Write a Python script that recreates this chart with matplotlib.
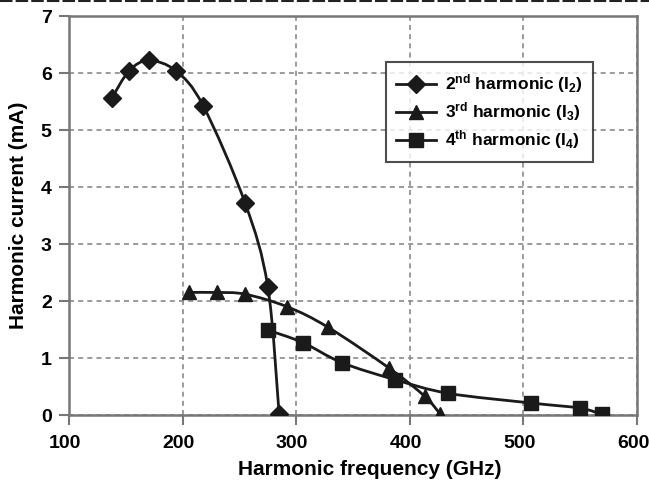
import numpy as np
import matplotlib
matplotlib.use("Agg")
import matplotlib.pyplot as plt
from matplotlib.path import Path
from matplotlib.patches import PathPatch
from matplotlib.lines import Line2D
import matplotlib.transforms as mtransforms

plt.rcParams['font.family'] = ['Liberation Sans', 'DejaVu Sans']
plt.rcParams['font.weight'] = 'bold'
plt.rcParams['mathtext.fontset'] = 'custom'
plt.rcParams['mathtext.rm'] = 'Liberation Sans:bold'
plt.rcParams['mathtext.it'] = 'Liberation Sans:bold'
plt.rcParams['mathtext.bf'] = 'Liberation Sans:bold'

# Data
f2 = [138, 153, 170, 194, 218, 255, 275, 285]
i2 = [5.57, 6.04, 6.22, 6.04, 5.43, 3.72, 2.25, 0.01]
f3 = [206, 230, 255, 292, 328, 382, 413, 427]
i3 = [2.15, 2.15, 2.12, 1.90, 1.54, 0.82, 0.33, 0.01]
f4 = [275, 306, 340, 387, 434, 507, 550, 569]
i4 = [1.49, 1.27, 0.92, 0.62, 0.38, 0.21, 0.12, 0.01]

labels = [r"2$^{\mathrm{nd}}$ harmonic (I$_{\mathrm{2}}$)",
          r"3$^{\mathrm{rd}}$ harmonic (I$_{\mathrm{3}}$)",
          r"4$^{\mathrm{th}}$ harmonic (I$_{\mathrm{4}}$)"]
x_ticks = [100, 200, 300, 400, 500, 600]
y_ticks = [0, 1, 2, 3, 4, 5, 6, 7]

fig = plt.figure(figsize=(6.49, 4.95), dpi=100)
ax = fig.add_axes([0.1063, 0.1616, 0.8752, 0.806])

def smooth_path(x, y):
    x = np.asarray(x, float); y = np.asarray(y, float)
    n = len(x)
    verts = [(x[0], y[0])]
    codes = [Path.MOVETO]
    for k in range(n - 1):
        p0 = (x[max(k - 1, 0)], y[max(k - 1, 0)])
        p1 = (x[k], y[k])
        p2 = (x[k + 1], y[k + 1])
        p3 = (x[min(k + 2, n - 1)], y[min(k + 2, n - 1)])
        c1 = (p1[0] + (p2[0] - p0[0]) / 6, p1[1] + (p2[1] - p0[1]) / 6)
        c2 = (p2[0] - (p3[0] - p1[0]) / 6, p2[1] - (p3[1] - p1[1]) / 6)
        verts += [c1, c2, p2]
        codes += [Path.CURVE4] * 3
    return Path(verts, codes)

col = '#1a1a1a'
series = [(f2, i2, 'D', 9.5), (f3, i3, '^', 10.5), (f4, i4, 's', 9.5)]
handles = []
for (x, y, m, ms), lab in zip(series, labels):
    ax.add_patch(PathPatch(smooth_path(x, y), facecolor='none', edgecolor=col, lw=2.0, zorder=3))
    ax.plot(x, y, linestyle='none', marker=m, ms=ms, color=col, zorder=4)
    handles.append(Line2D([], [], color=col, lw=2.0, marker=m, ms=ms))

ax.set_xlim(100, 600)
ax.set_ylim(0, 7)
ax.set_xticks(x_ticks)
ax.set_yticks(y_ticks)
ax.tick_params(labelsize=14, length=7, width=1.5, color='#777777', direction='out')
ax.tick_params(axis='x', pad=7.5)
ax.tick_params(axis='y', pad=5.5)
shift = mtransforms.ScaledTranslation(-4 / 100, 0, fig.dpi_scale_trans)
for lab in ax.get_xticklabels():
    lab.set_transform(lab.get_transform() + shift)
for lab in ax.get_xticklabels() + ax.get_yticklabels():
    lab.set_fontweight('bold')
ax.grid(True, color='#8a8a8a', linestyle=(0, (3, 2.5)), lw=1.2)
for s in ax.spines.values():
    s.set_color('#777777')
    s.set_linewidth(1.8)

ax.set_xlabel('Harmonic frequency (GHz)', fontsize=15, fontweight='bold')
ax.set_ylabel('Harmonic current (mA)', fontsize=15, fontweight='bold')
ax.xaxis.set_label_coords(0.53, -0.112)
ax.yaxis.set_label_coords(-0.072, 0.5)

leg = ax.legend(handles, labels, loc='upper right', bbox_to_anchor=(0.9225, 0.885),
                fontsize=12.5, frameon=True, fancybox=False, edgecolor='#222222',
                handlelength=2.3, labelspacing=0.3, borderpad=0.6, handletextpad=0.5,
                borderaxespad=0)
leg.get_frame().set_linewidth(1.5)
for t in leg.get_texts():
    t.set_fontweight('bold')

fig.add_artist(Line2D([0, 1], [0.998, 0.998], transform=fig.transFigure,
                      color='#222222', lw=1.5, linestyle=(0, (6, 1.5))))

fig.savefig('out.png', dpi=100)
